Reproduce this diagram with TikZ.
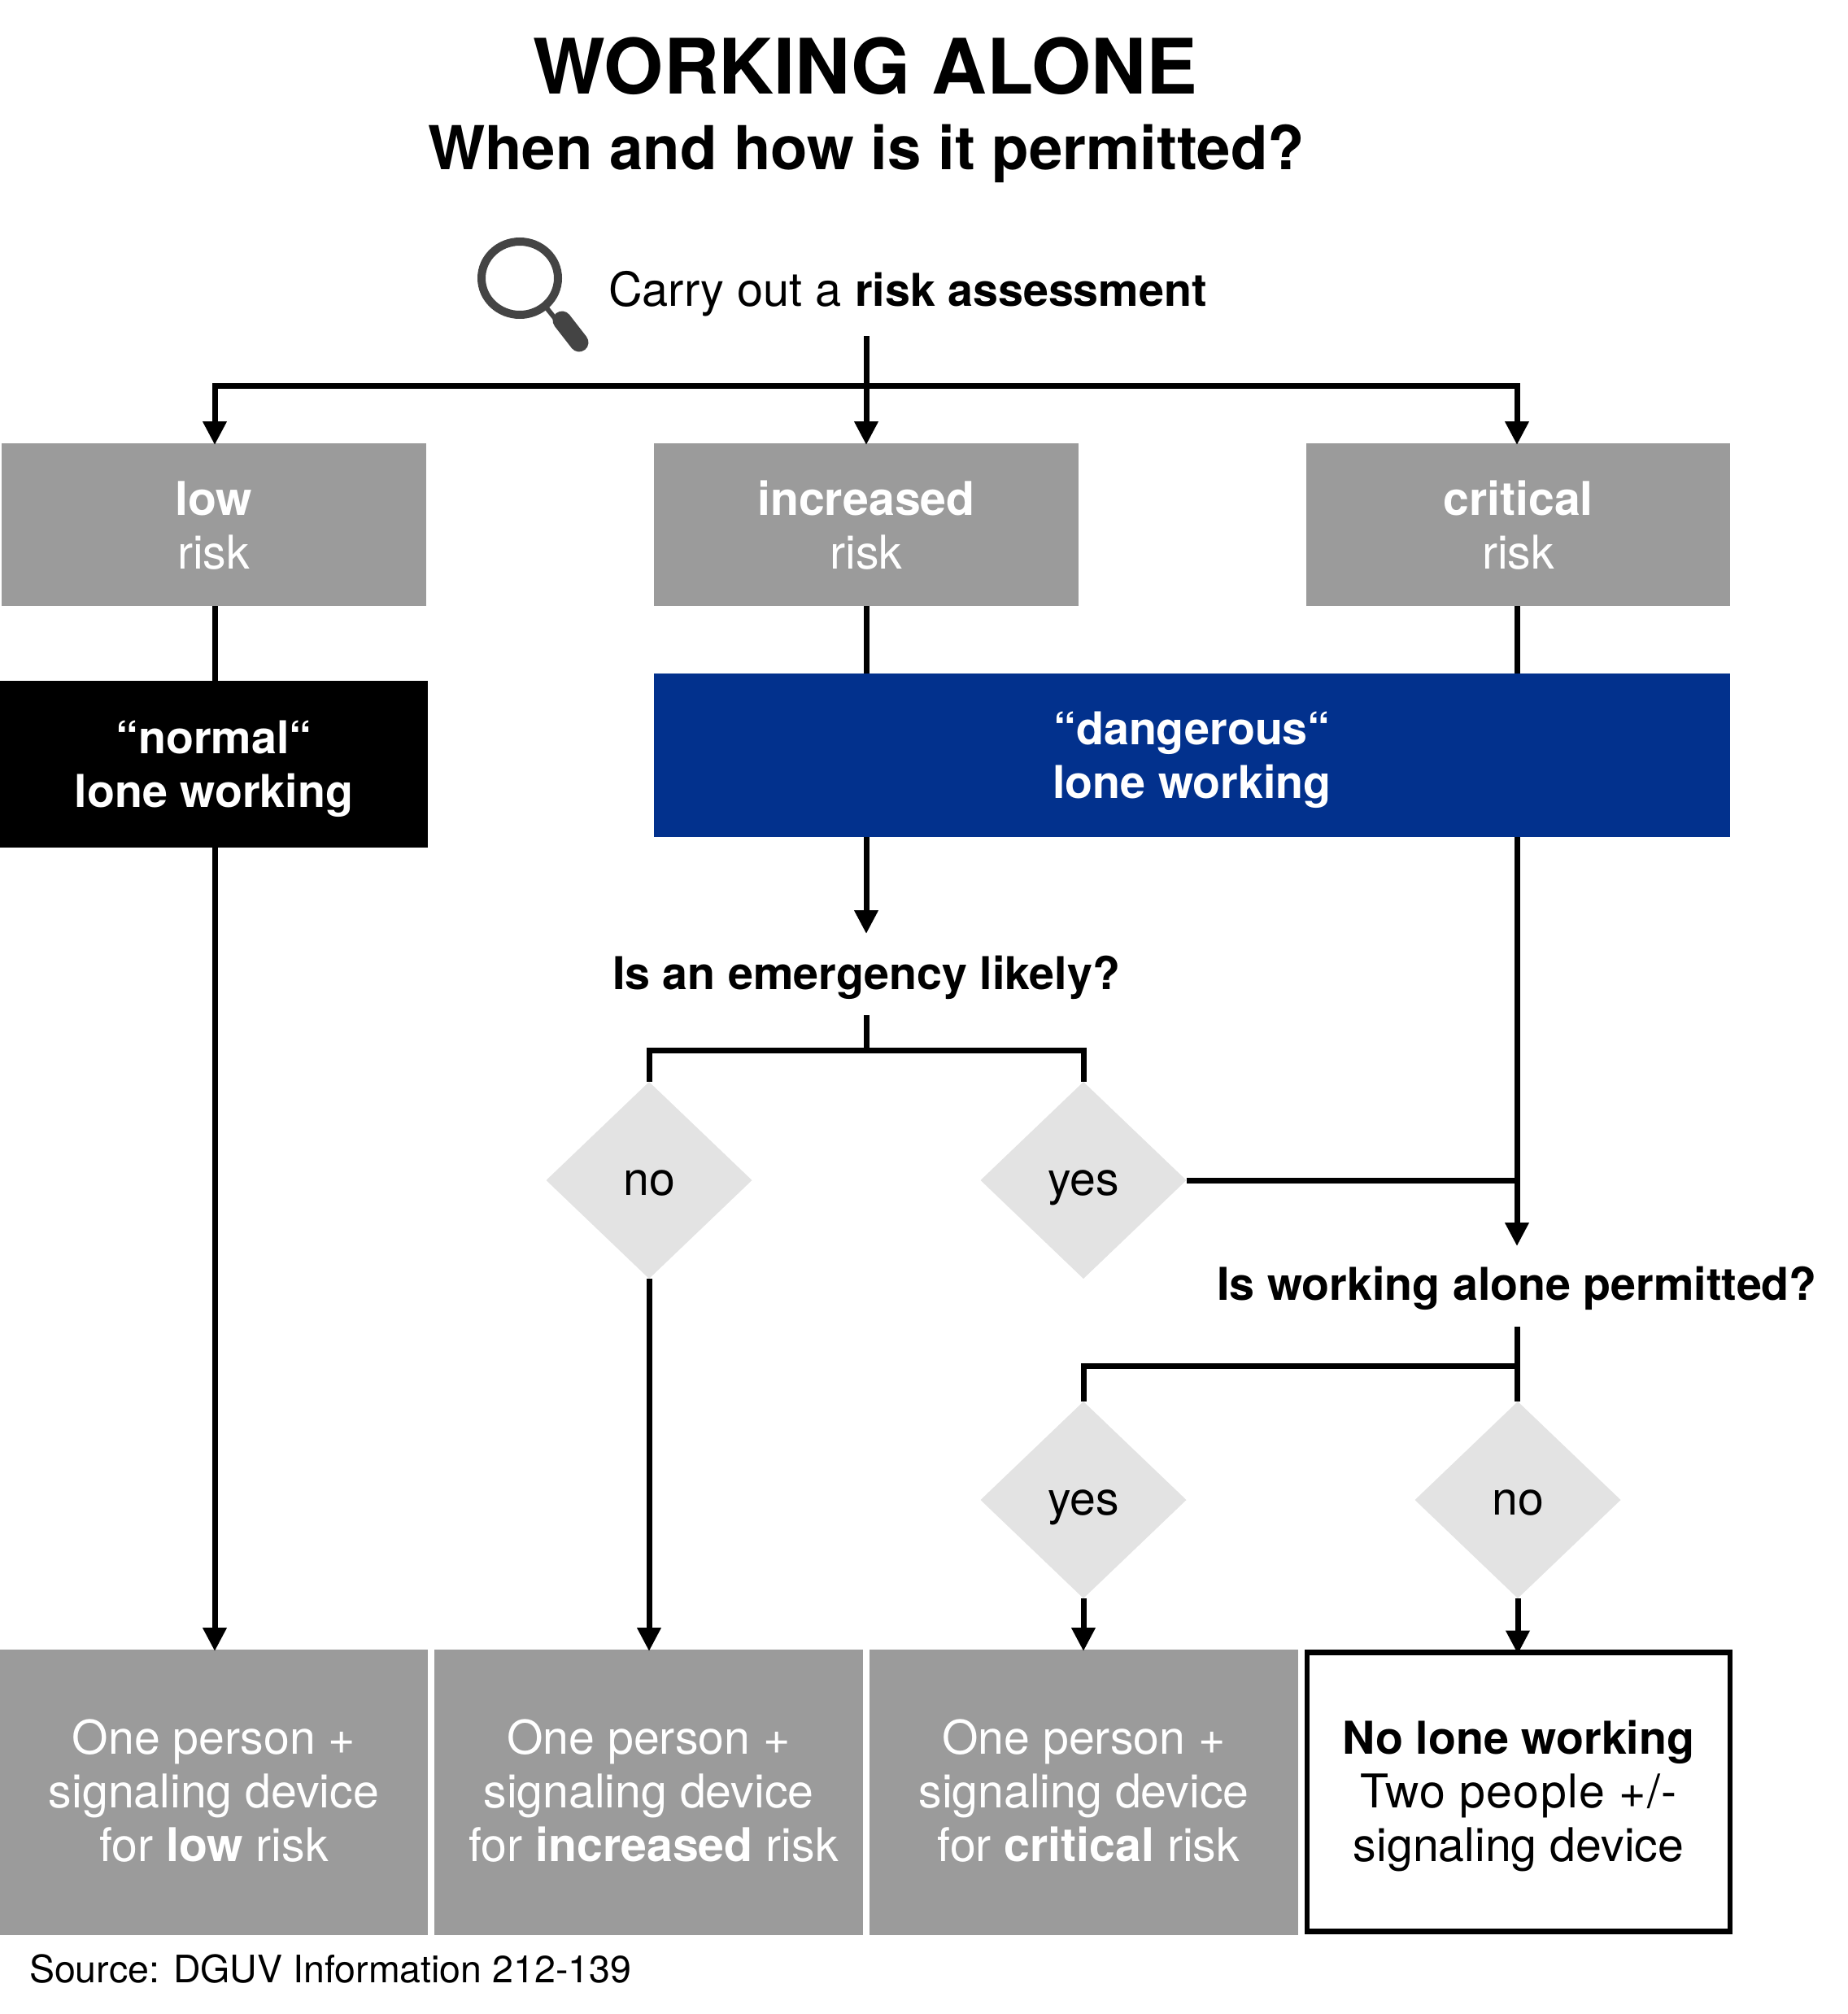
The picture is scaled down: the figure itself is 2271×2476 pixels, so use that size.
\documentclass[tikz,border=0pt]{standalone}
\usepackage{fontspec}
\setmainfont{TeX Gyre Heros}
\usetikzlibrary{arrows.meta,shapes.geometric}
\definecolor{boxgrey}{HTML}{9B9B9B}
\definecolor{diagrey}{HTML}{E3E3E3}
\definecolor{navy}{HTML}{02318D}
\definecolor{iconc}{HTML}{444444}
\newcommand{\bodyfont}{\fontsize{57.2}{66}\selectfont}
\newcommand{\boldfont}{\fontsize{55.6}{66}\selectfont\bfseries}
\newcommand{\topup}{\rule{0pt}{52pt}}
\newcommand{\topsm}{\rule{0pt}{44pt}}
\newcommand{\lowd}{\rule[-4pt]{0pt}{4pt}}
\tikzset{
  x=1pt,y=-1pt,
  every node/.style={inner sep=0pt,outer sep=0pt},
  conn/.style={line width=7pt,draw=black},
  arr/.style={conn,-{Triangle[width=28pt,length=29pt]},shorten >=-2pt},
  riskbox/.style={fill=boxgrey,text=white,align=center,font=\bodyfont,minimum height=200pt,minimum width=522pt},
  resbox/.style={fill=boxgrey,text=white,align=center,font=\bodyfont,minimum height=351pt},
  kindbox/.style={text=white,align=center,font=\boldfont},
  dia/.style={diamond,fill=diagrey,aspect=1,minimum width=253pt,minimum height=242pt,font=\bodyfont,text height=36pt,text depth=0pt},
  question/.style={anchor=base,font=\fontsize{55.6}{60}\selectfont\bfseries},
}
\begin{document}
\begin{tikzpicture}
\useasboundingbox (0,0) rectangle (2271,2476);
% titles
\node[anchor=base,font=\fontsize{94}{100}\selectfont\bfseries] (title) at (1064,115) {WORKING ALONE};
\node[anchor=base,font=\fontsize{74.4}{80}\selectfont\bfseries] (subtitle) at (1065,208) {When and how is it permitted?};
% icon
\draw[iconc,line width=10pt] (639,342) ellipse [x radius=47,y radius=45];
\draw[iconc,line width=6pt] (670,376) -- (686,396);
\draw[iconc,line width=23pt,line cap=round] (691,394) -- (712,421);
\node[anchor=base,font=\fontsize{57.7}{66}\selectfont] (carry) at (1116,376) {Carry out a {\fontsize{55.6}{66}\selectfont\bfseries risk assessment}};
% boxes
\node[riskbox] (low) at (262.5,645) {\topsm\textbf{low}\\risk};
\node[riskbox] (inc) at (1065,645) {\topsm\textbf{increased}\\risk};
\node[riskbox,minimum width=521pt] (cri) at (1866.5,645) {\topsm\textbf{critical}\\risk};
\node[kindbox,fill=black,minimum width=526pt,minimum height=205pt] (normal) at (263,939.5) {\topup “normal“\\lone working};
\node[kindbox,fill=navy,minimum width=1323pt,minimum height=201pt] (danger) at (1465.5,928.5) {\topup “dangerous“\\lone working};
\node[question] (q1) at (1065,1216) {Is an emergency likely?};
\node[question] (q2) at (1865,1598) {Is working alone permitted?};
\node[dia] (d1no) at (798,1451) {no};
\node[dia] (d1yes) at (1332,1451) {yes};
\node[dia] (d2yes) at (1332,1844) {yes};
\node[dia] (d2no) at (1866,1844) {no};
\node[resbox,minimum width=526pt] (r1) at (263,2203.5) {One person +\\signaling device\\for \textbf{low} risk\lowd};
\node[resbox,minimum width=527pt] (r2) at (797.5,2203.5) {One person +\\signaling device\\\hspace*{12pt}for \textbf{increased} risk\lowd};
\node[resbox,minimum width=527pt] (r3) at (1332.5,2203.5) {One person +\\signaling device\\\hspace*{12pt}for \textbf{critical} risk\lowd};
\node[draw=black,line width=6.5pt,fill=white,align=center,font=\bodyfont,minimum width=520pt,minimum height=343pt] (r4) at (1867,2203) {\topup{\boldfont No lone working}\\{\addfontfeature{LetterSpace=2.4}Two people +/-}\\signaling device};
\node[anchor=base west,font=\fontsize{46.5}{50}\selectfont] (source) at (36,2437) {Source: DGUV Information 212-139};
% free ends and rails
\coordinate (xl) at (264,0);
\coordinate (xm) at (1065,0);
\coordinate (xr) at (1865,0);
\coordinate (start) at (1065,413);
\coordinate (rail) at (1065,474);
\coordinate (q1in) at (1065,1146);
\coordinate (q1out) at (1065,1248);
\coordinate (q1rail) at (1065,1291);
\coordinate (q2in) at (1865,1530);
\coordinate (q2out) at (1865,1631);
\coordinate (q2rail) at (1865,1679);
% connectors
\draw[conn] (start) -- (rail);
\draw[arr] (rail) -| (low.north -| xl);
\draw[arr] (rail) -- (inc.north -| xm);
\draw[arr] (rail) -| (cri.north -| xr);
\draw[conn] (low.south -| xl) -- (normal.north -| xl);
\draw[arr] (normal.south -| xl) -- (r1.north -| xl);
\draw[conn] (inc.south -| xm) -- (danger.north -| xm);
\draw[conn] (cri.south -| xr) -- (danger.north -| xr);
\draw[arr] (danger.south -| xm) -- (q1in);
\draw[conn] (q1out) -- (q1rail);
\draw[conn] (d1no.north) |- (q1rail) -| (d1yes.north);
\draw[arr] (d1no.south) -- (r2.north -| d1no.south);
\draw[arr] (danger.south -| xr) -- (q2in);
\draw[conn] (d1yes.east) -- (d1yes.east -| xr);
\draw[conn] (q2out) -- (d2no.north -| xr);
\draw[conn] (d2yes.north) |- (q2rail);
\draw[arr] (d2yes.south) -- (r3.north -| d2yes.south);
\draw[arr] (d2no.south) -- (r4.north -| d2no.south);
\end{tikzpicture}
\end{document}
